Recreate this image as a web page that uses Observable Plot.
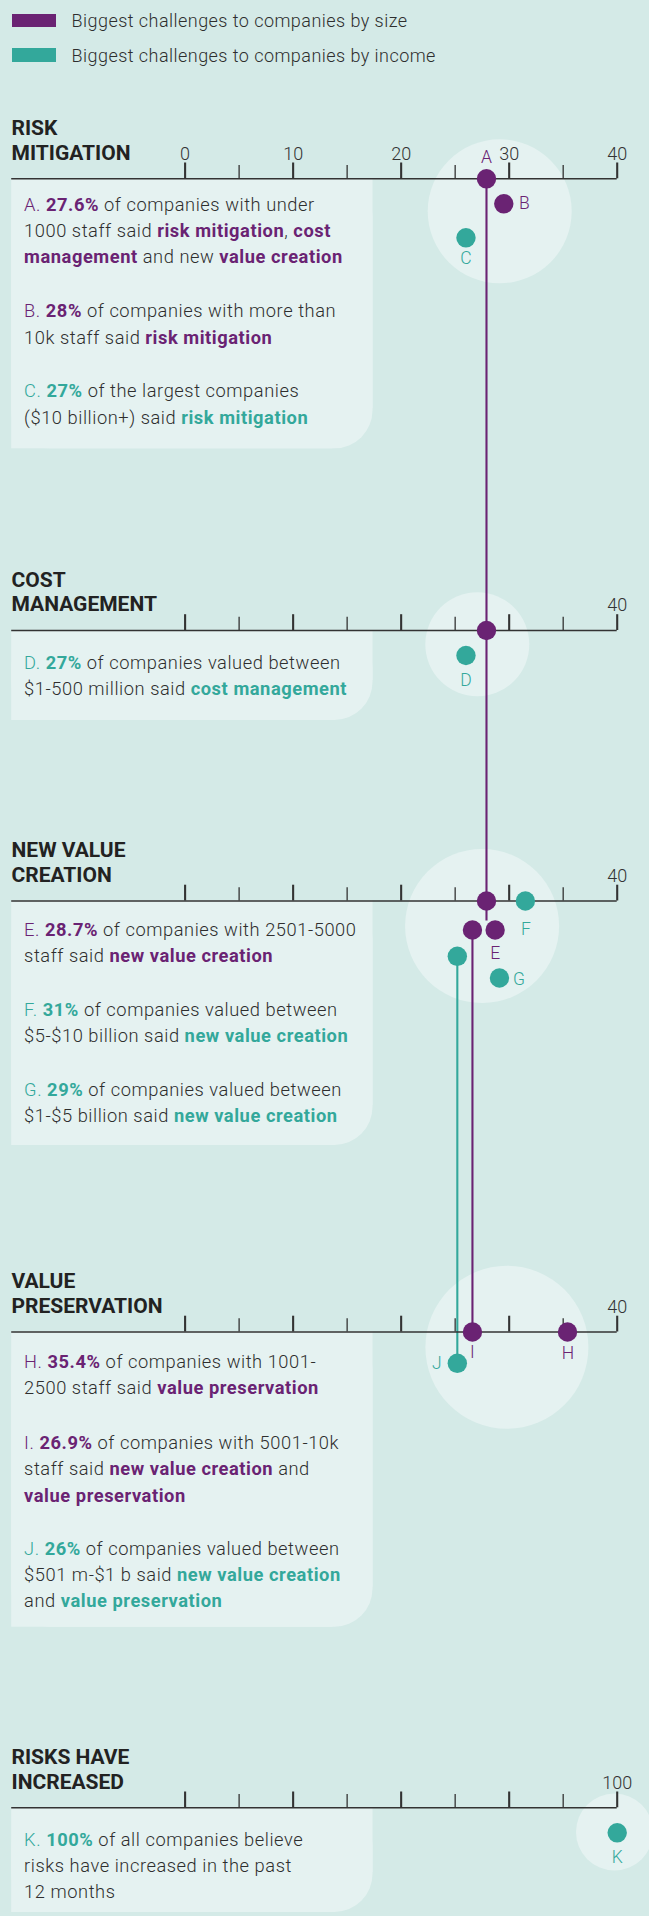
<!DOCTYPE html>
<html>
<head>
<meta charset="utf-8">
<script src="https://cdn.jsdelivr.net/npm/d3@7"></script>
<script src="https://cdn.jsdelivr.net/npm/@observablehq/plot@0.6"></script>
<style>
  html, body { margin: 0; padding: 0; background: #d4eae7; }
  body { width: 649px; height: 1916px; overflow: hidden; font-family: Roboto, "Noto Sans", sans-serif; }
  #legend { position: relative; height: 78px; }
  .lg { position: absolute; left: 12px; height: 20px; display: flex; align-items: center; }
  .sw { width: 44px; height: 13.5px; margin-right: 15.6px; }
  .lt { font-size: 18px; letter-spacing: 0.45px; font-weight: 300; color: #2e2e2e; white-space: nowrap; }
  #chart svg { display: block; }
</style>
</head>
<body>
<div id="legend"></div>
<div id="chart"></div>
<script>
// ---------------- DATA ----------------
const series = ["size", "income"];
const seriesLabel = ["Biggest challenges to companies by size", "Biggest challenges to companies by income"];

const categories = ["RISK\nMITIGATION", "COST\nMANAGEMENT", "NEW VALUE\nCREATION", "VALUE\nPRESERVATION", "RISKS HAVE\nINCREASED"];
const axisMax = [40, 40, 40, 40, 100];
const tickLabels = [[0, 10, 20, 30, 40], [40], [40], [40], [100]];

const pointSection = [0, 0, 0, 1, 1, 2, 2, 2, 2, 2, 2, 3, 3, 3, 4];
const pointSeries  = ["size", "size", "income", "size", "income", "size", "size", "size", "income", "income", "income", "size", "size", "income", "income"];
const pointGroup   = ["A", "B", "C", "A", "D", "A", "E", "I", "F", "J", "G", "H", "I", "J", "K"];
const pointLabel   = ["A", "B", "C", "", "D", "", "E", "", "F", "", "G", "H", "I", "J", "K"];
const pointValue   = [27.9, 29.5, 26.0, 27.9, 26.0, 27.9, 28.7, 26.6, 31.5, 25.2, 29.1, 35.4, 26.6, 25.2, 100];

// annotation notes
const noteSection = [0, 0, 0, 1, 2, 2, 2, 3, 3, 3, 4];
const noteSeries  = ["size", "size", "income", "income", "size", "income", "income", "size", "size", "income", "income"];
const noteText = [
  "[A.] **27.6%** of companies with under\n1000 staff said **risk mitigation**, **cost**\n**management** and new **value creation**",
  "[B.] **28%** of companies with more than\n10k staff said **risk mitigation**",
  "[C.] **27%** of the largest companies\n($10 billion+) said **risk mitigation**",
  "[D.] **27%** of companies valued between\n$1-500 million said **cost management**",
  "[E.] **28.7%** of companies with 2501-5000\nstaff said **new value creation**",
  "[F.] **31%** of companies valued between\n$5-$10 billion said **new value creation**",
  "[G.] **29%** of companies valued between\n$1-$5 billion said **new value creation**",
  "[H.] **35.4%** of companies with 1001-\n2500 staff said **value preservation**",
  "[I.] **26.9%** of companies with 5001-10k\nstaff said **new value creation** and\n**value preservation**",
  "[J.] **26%** of companies valued between\n$501 m-$1 b said **new value creation**\nand **value preservation**",
  "[K.] **100%** of all companies believe\nrisks have increased in the past\n12 months"
];

// ---------------- LAYOUT / STYLE ----------------
const colors = { size: "#6a2373", income: "#33a89b" };
const PANEL = "#e5f2f1";
const INK = "#2e2e2e";
const FONT = 'Roboto, "Noto Sans", sans-serif';
const X0 = 184.6, X1 = 616.7;            // axis pixel range
const fx = px => (px - X0) / (X1 - X0);  // page pixel -> axis fraction
const LEGEND_H = 78, H = 1916;

const sectionAxisY = [178.3, 630, 900.5, 1331.5, 1807.3];
const panelBottom  = [448.3, 720, 1145, 1626.7, 1912];
const halo = [
  { cx: 499.2, cy: 210.8, r: 72 },
  { cx: 476.8, cy: 643.8, r: 52 },
  { cx: 481.6, cy: 925.5, r: 77 },
  { cx: 506.4, cy: 1346.7, r: 81.5 },
  { cx: 614, cy: 1831.5, r: 38.5 }
];
const pointDy = [0, 25, 59, 0, 25, 0, 29, 29, 0, 55.3, 77, 0, 0, 31.3, 25];
const labelOffset = [[0, -21.5], [20.5, 0], [0, 21], [0, 0], [0, 25], [0, 0], [0, 23.5], [0, 0], [0.5, 28.5], [0, 0], [19.5, 1], [0.5, 21.3], [0, 20.5], [-20.6, 0], [0, 24.4]];
const lineTail = { A: 20 };   // short stub below the last dot of a linked group
const noteY = [210, 316.7, 396.7, 668.5, 935, 1015, 1095, 1367.3, 1448.3, 1554, 1845];
const LINE = 26.4;

// ---------------- LEGEND (HTML above the SVG) ----------------
const legend = document.getElementById("legend");
series.forEach((s, i) => {
  const row = document.createElement("div");
  row.className = "lg";
  row.style.top = (10.4 + i * 34.6) + "px";
  row.innerHTML = `<div class="sw" style="background:${colors[s]}"></div><div class="lt">${seriesLabel[i]}</div>`;
  legend.appendChild(row);
});

// ---------------- DERIVED TABLES ----------------
const sections = categories.map((title, i) => ({ i, title, axisY: sectionAxisY[i], bottom: panelBottom[i], max: axisMax[i] }));

const ticks = sections.flatMap(s => d3.range(9).map(k => ({
  x: k / 8, y1: s.axisY - (k % 2 ? 13.3 : 15.8), y2: s.axisY, w: k % 2 ? 1.3 : 2.1
})));
const tickText = sections.flatMap(s => tickLabels[s.i].map(v => ({ x: v / s.max, y: s.axisY - 19.2, t: String(v) })));

const points = pointValue.map((v, i) => ({
  value: v, section: pointSection[i], series: pointSeries[i], group: pointGroup[i], label: pointLabel[i],
  x: v / axisMax[pointSection[i]], y: sectionAxisY[pointSection[i]] + pointDy[i],
  ldx: labelOffset[i][0], ldy: labelOffset[i][1]
}));
const groupCount = d3.rollup(points, v => v.length, d => d.group);
const linked = points.filter(d => groupCount.get(d.group) > 1);
const tails = Object.entries(lineTail).map(([g, len]) => {
  const last = linked.filter(d => d.group === g).at(-1);
  return { ...last, y2: last.y + len };
});

const noteLines = noteText.flatMap((txt, i) => txt.split("\n").map((line, j) => ({
  line, y: noteY[i] + j * LINE, color: colors[noteSeries[i]]
})));

const R = 38, PX1 = 11.2, PX2 = 372.5;

const marks = [];
// panels with rounded bottom-right corner
marks.push(Plot.rect(sections, { x1: fx(PX1), x2: fx(PX2), y1: "axisY", y2: "bottom", fill: PANEL, rx: R }));
marks.push(Plot.rect(sections, { x1: fx(PX1), x2: fx(PX2 - R - 2), y1: "axisY", y2: "bottom", fill: PANEL }));
marks.push(Plot.rect(sections, { x1: fx(PX2 - R - 3), x2: fx(PX2), y1: "axisY", y2: d => d.bottom - R - 2, fill: PANEL }));
// highlight halos
halo.forEach(h => marks.push(Plot.dot([h], { x: d => fx(d.cx), y: "cy", r: h.r, fill: PANEL, stroke: null })));
// connecting lines
marks.push(Plot.line(linked, { x: "x", y: "y", z: "group", stroke: d => colors[d.series], strokeWidth: 2.1 }));
marks.push(Plot.ruleX(tails, { x: "x", y1: "y", y2: "y2", stroke: d => colors[d.series], strokeWidth: 2.1 }));
// axis base lines
marks.push(Plot.ruleY(sections, { y: "axisY", x1: fx(PX1), x2: 1, stroke: "#333", strokeWidth: 1.6 }));
// ticks
marks.push(Plot.ruleX(ticks, { x: "x", y1: "y1", y2: "y2", strokeWidth: "w", stroke: "#333" }));
marks.push(Plot.text(tickText, { x: "x", y: "y", text: "t", lineAnchor: "bottom", fontSize: 18, fontWeight: 300, fill: "#333" }));
// section titles
marks.push(Plot.text(sections, { y: d => d.axisY - 19.3, text: "title", frameAnchor: "left", textAnchor: "start", dx: 11, lineAnchor: "bottom", lineHeight: 1.17, fontSize: 21, fontWeight: 700, fill: "#222" }));
// notes
marks.push(Plot.text(noteLines, { y: "y", text: "line", frameAnchor: "left", textAnchor: "start", dx: 23.6, lineAnchor: "bottom", fontSize: 18.3, fontWeight: 300, fill: "color" }));
// dots
marks.push(Plot.dot(points, { x: "x", y: "y", r: 9.7, fill: d => colors[d.series], stroke: null }));
// dot letters (grouped by horizontal offset)
d3.groups(points.filter(d => d.label), d => d.ldx).forEach(([dx, arr]) => {
  marks.push(Plot.text(arr, { x: "x", y: d => d.y + d.ldy, dx, text: "label", fontSize: 17.5, fontWeight: 300, fill: d => colors[d.series] }));
});

const chart = Plot.plot({
  width: 649,
  height: H - LEGEND_H,
  margin: 0,
  x: { domain: [0, 1], range: [X0, X1], axis: null },
  y: { domain: [LEGEND_H, H], range: [0, H - LEGEND_H], axis: null },
  style: { background: "transparent", fontFamily: FONT, overflow: "visible" },
  marks
});

// rich text: [prefix] in series colour, **bold** in series colour, rest in ink
const NS = "http://www.w3.org/2000/svg";
const noteGroups = new Set();
chart.querySelectorAll("text").forEach(el => { if (/\*\*/.test(el.textContent)) noteGroups.add(el.parentNode); });
noteGroups.forEach(g => {
  g.setAttribute("letter-spacing", "0.55");
  g.querySelectorAll("text").forEach(el => {
    const s = el.textContent;
    const color = el.getAttribute("fill");
    el.setAttribute("fill", INK);
    el.textContent = "";
    const re = /\[([^\]]+)\]|\*\*([^*]+)\*\*|([^\[*]+)/g;
    let m;
    while ((m = re.exec(s))) {
      const t = document.createElementNS(NS, "tspan");
      if (m[1]) { t.setAttribute("fill", color); t.textContent = m[1]; }
      else if (m[2]) { t.setAttribute("fill", color); t.setAttribute("font-weight", "700"); t.textContent = m[2]; }
      else { t.textContent = m[3]; }
      el.appendChild(t);
    }
  });
});

document.getElementById("chart").appendChild(chart);
</script>
</body>
</html>
